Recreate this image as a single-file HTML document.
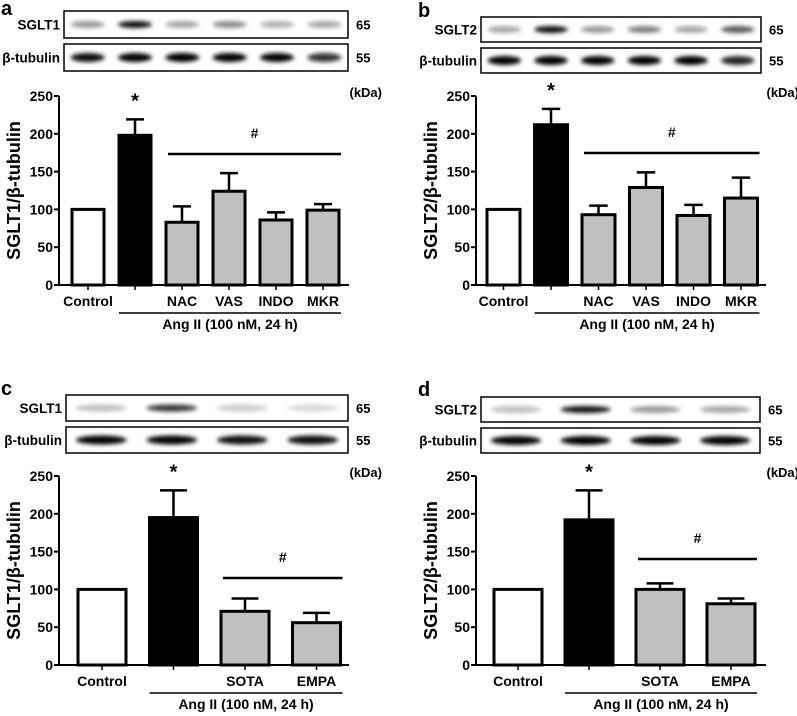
<!DOCTYPE html>
<html><head><meta charset="utf-8"><style>
body{margin:0;background:#fff}
svg{display:block;font-family:"Liberation Sans",Arial,sans-serif;font-weight:bold}
</style></head><body>
<svg id="fig" width="797" height="716" viewBox="0 0 797 716">
<defs><filter id="bl" x="-20%" y="-100%" width="140%" height="300%"><feGaussianBlur stdDeviation="2"/></filter></defs>
</svg>
<script>
const yTicks=[0,50,100,150,200,250];
const catsA=["Control","","NAC","VAS","INDO","MKR"];
const valsA=[100,198,83,124,86,99];
const errA=[0,21,21,24,10,8];
const valsB=[100,212,93,129,92,115];
const errB=[0,21,12,20,14,27];
const catsC=["Control","","SOTA","EMPA"];
const valsC=[100,195,71,56];
const errC=[0,36,17,13];
const valsD=[100,192,100,81];
const errD=[0,39,8,7];
const bandA1=[0.4,0.95,0.35,0.45,0.3,0.35], bandA2=[0.95,1,1,1,1,0.8];
const bandB1=[0.35,0.95,0.4,0.5,0.35,0.65], bandB2=[1,1,1,1,1,0.85];
const bandC1=[0.25,0.8,0.2,0.15], bandC2=[1,1,0.95,0.95];
const bandD1=[0.25,0.95,0.4,0.35], bandD2=[1,1,1,1];

const NS="http://www.w3.org/2000/svg";
const svg=document.getElementById('fig');
function mk(tag,attrs,parent,text){const e=document.createElementNS(NS,tag);for(const k in attrs)e.setAttribute(k,attrs[k]);if(text!==undefined)e.textContent=text;(parent||svg).appendChild(e);return e;}

function panel(p){
  const g=mk('g',{});
  
  
  const y0=p.y0, ppu=189/250;
  const Y=v=>y0-v*ppu;
  const X=i=>p.bx0+i*p.step;
  const lt=mk('text',{x:p.ax-58,y:p.letterY,'font-size':20},g,p.letter);
  
  const rows=[[p.prot,p.blotY,p.b1,65],["β-tubulin",p.blotY+p.bh+6,p.b2,55]];
  rows.forEach((r,ri)=>{
    const bx=mk('rect',{x:p.blx,y:r[1],width:p.blw,height:p.bh,fill:'#fff',stroke:'#000','stroke-width':1.5},g);
    
    const n=r[2].length, lw=p.blw/n;
    r[2].forEach((d,i)=>{
      const e=mk('ellipse',{cx:p.blx+lw*(i+0.5),cy:r[1]+p.bh/2,rx:lw*0.36,ry:ri?4.5:3.5,fill:'#000','fill-opacity':d,filter:'url(#bl)'},g);
      
    });
    const lb=mk('text',{x:p.blx-4,y:r[1]+p.bh/2+5,'font-size':13.5,'text-anchor':'end'},g,r[0]);
    
    const kd=mk('text',{x:p.blx+p.blw+8,y:r[1]+p.bh/2+5,'font-size':13},g,String(r[3]));
    
  });
  const kda=mk('text',{x:p.ax+p.axw+33,y:Y(250)+1,'font-size':13,'text-anchor':'end'},g,'(kDa)');
  
  p.vals.forEach((v,i)=>{
    const cx=X(i)+p.bw/2;
    if(p.err[i]>0){
      const el=mk('path',{d:`M${cx},${Y(v)} V${Y(v+p.err[i])} M${cx-p.bw*0.28},${Y(v+p.err[i])} H${cx+p.bw*0.28}`,stroke:'#000','stroke-width':2.5,fill:'none'},g);
      
    }
    const b=mk('rect',{x:X(i),y:Y(v),width:p.bw,height:y0-Y(v),fill:i==0?'#fff':(i==1?'#000':'#c0c0c0'),stroke:'#000','stroke-width':3},g);
    
    const tk=mk('line',{x1:cx,x2:cx,y1:y0,y2:y0+5,stroke:'#000','stroke-width':1.5},g);
    
    if(p.cats[i]){const t=mk('text',{x:cx,y:y0+21,'font-size':14,'text-anchor':'middle'},g,p.cats[i]);
      }
  });
  const ax=mk('path',{d:`M${p.ax},${Y(250)} V${y0} H${p.ax+p.axw}`,stroke:'#000','stroke-width':2,fill:'none'},g);
  
  yTicks.forEach(t=>{
    const l=mk('line',{x1:p.ax-5,x2:p.ax,y1:Y(t),y2:Y(t),stroke:'#000','stroke-width':2},g);
    
    const tx=mk('text',{x:p.ax-6,y:Y(t)+5,'font-size':14,'text-anchor':'end'},g,String(t));
    
  });
  const yt=mk('text',{transform:`translate(${p.ax-39},${Y(125)}) rotate(-90)`,'font-size':18,'text-anchor':'middle'},g,p.prot+'/β-tubulin');
  
  const st=mk('text',{x:X(1)+p.bw/2,y:Y(p.vals[1]+p.err[1])-12,'font-size':20,'text-anchor':'middle'},g,'*');
  
  const n=p.vals.length;
  const x1=X(2)+2,x2=X(n-1)+p.bw+2;
  const hl=mk('line',{x1:x1,x2:x2,y1:p.hashY,y2:p.hashY,stroke:'#000','stroke-width':2.5},g);
  
  const hs=mk('text',{x:(x1+x2)/2,y:p.hashY-16,'font-size':14,'text-anchor':'middle'},g,'#');
  
  const gl=mk('line',{x1:X(1),x2:x2,y1:y0+28,y2:y0+28,stroke:'#000','stroke-width':1.5},g);
  
  const gt=mk('text',{x:(X(1)+x2)/2,y:y0+44,'font-size':14,'text-anchor':'middle'},g,'Ang II (100 nM, 24 h)');
  
}
panel({letter:'a',prot:'SGLT1',cats:catsA,vals:valsA,err:errA,b1:bandA1,b2:bandA2,ax:59,axw:290,y0:285,bx0:72,step:47,bw:32,blx:64,blw:284,blotY:11,bh:27,hashY:154,letterY:15});
panel({letter:'b',prot:'SGLT2',cats:catsA,vals:valsB,err:errB,b1:bandB1,b2:bandB2,ax:476,axw:290,y0:285,bx0:487,step:47.5,bw:33,blx:481,blw:280,blotY:17,bh:25,hashY:153,letterY:17});
panel({letter:'c',prot:'SGLT1',cats:catsC,vals:valsC,err:errC,b1:bandC1,b2:bandC2,ax:59,axw:290,y0:665,bx0:78,step:71.5,bw:48,blx:66,blw:282,blotY:395,bh:26,hashY:578,letterY:395});
panel({letter:'d',prot:'SGLT2',cats:catsC,vals:valsD,err:errD,b1:bandD1,b2:bandD2,ax:476,axw:290,y0:665,bx0:494,step:71,bw:48,blx:481,blw:279,blotY:397,bh:25,hashY:559,letterY:396});
</script>
</body></html>
